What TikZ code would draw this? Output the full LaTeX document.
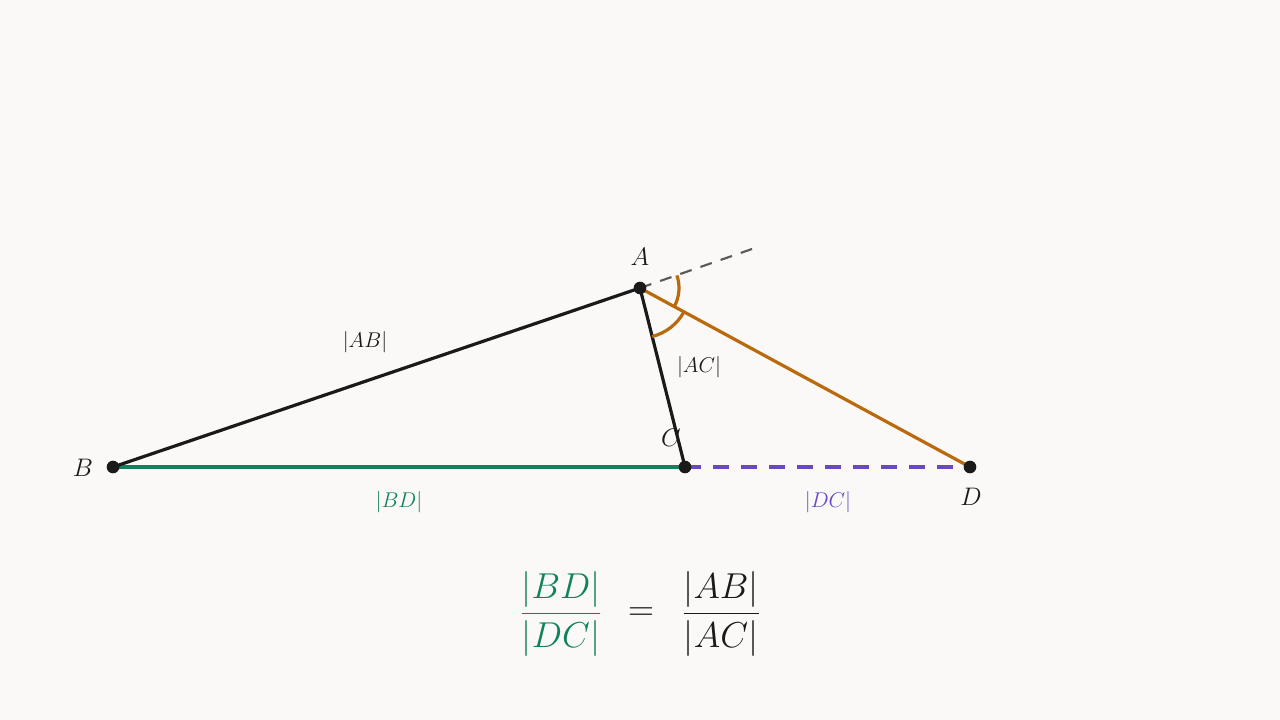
\RequirePackage{fix-cm}
\documentclass[tikz,border=0pt]{standalone}
\usepackage{amsmath}
\definecolor{bg}{HTML}{FAF9F7}
\definecolor{ink}{HTML}{1A1A1A}
\definecolor{bdgreen}{HTML}{10825E}
\definecolor{orng}{HTML}{BA6A0C}
\definecolor{purp}{HTML}{6A46C8}
\definecolor{gry}{HTML}{5A5A5A}
\tikzset{
  seg/.style={line width=2.4pt, ink},
  dotpt/.style={circle, fill=ink, inner sep=0pt, minimum size=9.5pt},
  vlab/.style={font=\fontsize{19}{22}\selectfont, text=ink},
  slab/.style={font=\fontsize{16}{19}\selectfont},
  anglearc/.style={line width=2.4pt, orng},
  eqfont/.style={font=\fontsize{27}{32}\selectfont},
}
\begin{document}
\begin{tikzpicture}[x=0.75pt,y=-0.75pt]
\fill[bg] (0,0) rectangle (1280,720);
\useasboundingbox (0,0) rectangle (1280,720);
\coordinate (A) at (640,288);
\coordinate (B) at (113,467);
\coordinate (C) at (685,467);
\coordinate (D) at (970,467);
\coordinate (E) at (752,249);
% extension
\draw[gry, line width=1.6pt, dash pattern=on 9pt off 7pt] (A) -- (E);
% segments
\draw[line width=2.4pt, bdgreen] (B) -- (C);
\draw[line width=2.4pt, purp, dash pattern=on 12pt off 9pt] (C) -- (D);
\draw[line width=2.4pt, orng] (A) -- (D);
\draw[seg] (B) -- (A) -- (C);
% angle arcs
\draw[anglearc] ([shift={(-18.8:39)}]A) arc[start angle=-18.8, end angle=28.5, radius=39];
\draw[anglearc] ([shift={(28.5:50)}]A) arc[start angle=28.5, end angle=75.9, radius=50];
% points
\node[dotpt] (pA) at (A) {};
\node[dotpt] (pB) at (B) {};
\node[dotpt] (pC) at (C) {};
\node[dotpt] (pD) at (D) {};
% labels
\node[vlab] (lA) at (640,257) {$A$};
\node[vlab] (lB) at (83,468) {$B$};
\node[vlab] (lC) at (671,438) {$C$};
\node[vlab] (lD) at (971,497) {$D$};
\node[slab, text=ink] (lAB) at (365,342) {$|AB|$};
\node[slab, text=ink] (lAC) at (699,367) {$|AC|$};
\node[slab, text=bdgreen] (lBD) at (399,502) {$|BD|$};
\node[slab, text=purp] (lDC) at (828,502) {$|DC|$};
% equation
\node[eqfont, text=bdgreen] (f1) at (561,614) {$\dfrac{|BD|}{|DC|}$};
\node[eqfont, text=ink] (eq) at (641,614) {$=$};
\node[eqfont, text=ink] (f2) at (721,614) {$\dfrac{|AB|}{|AC|}$};
\end{tikzpicture}
\end{document}
